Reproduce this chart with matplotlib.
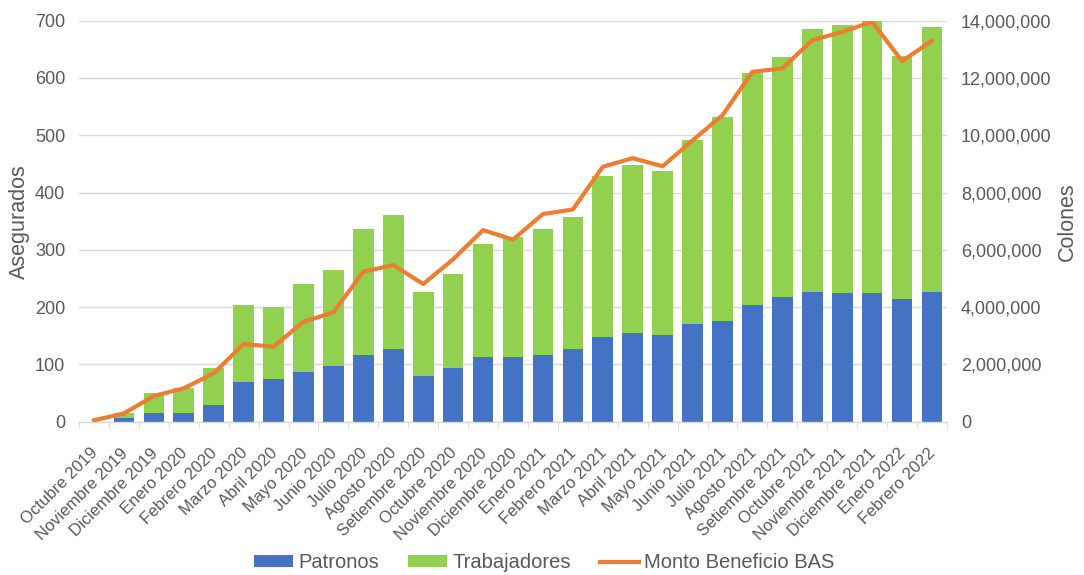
import matplotlib
matplotlib.use("Agg")
import matplotlib.pyplot as plt
import matplotlib.transforms as mtransforms
from matplotlib.ticker import FuncFormatter, MultipleLocator
import numpy as np

plt.rcParams['font.family'] = ['Liberation Sans', 'DejaVu Sans']

meses = ['Octubre 2019', 'Noviembre 2019', 'Diciembre 2019', 'Enero 2020', 'Febrero 2020',
         'Marzo 2020', 'Abril 2020', 'Mayo 2020', 'Junio 2020', 'Julio 2020', 'Agosto 2020',
         'Setiembre 2020', 'Octubre 2020', 'Noviembre 2020', 'Diciembre 2020', 'Enero 2021',
         'Febrero 2021', 'Marzo 2021', 'Abril 2021', 'Mayo 2021', 'Junio 2021', 'Julio 2021',
         'Agosto 2021', 'Setiembre 2021', 'Octubre 2021', 'Noviembre 2021', 'Diciembre 2021',
         'Enero 2022', 'Febrero 2022']

patronos = [0, 7, 16, 16, 29, 70, 74, 87, 97, 117, 127, 80, 94, 113, 113, 117, 127,
            147, 154, 151, 170, 176, 204, 217, 227, 224, 224, 214, 227]
total = [0, 16, 50, 59, 93, 204, 201, 240, 264, 337, 361, 227, 257, 311, 322, 337, 358,
         429, 448, 438, 492, 532, 609, 636, 685, 692, 700, 639, 689]
trabajadores = [t - p for t, p in zip(total, patronos)]
monto = [50000, 290000, 900000, 1165000, 1690000, 2710000, 2620000, 3490000, 3820000,
         5235000, 5470000, 4805000, 5670000, 6690000, 6360000, 7250000, 7410000,
         8900000, 9200000, 8920000, 9820000, 10700000, 12215000, 12335000, 13320000,
         13610000, 13960000, 12590000, 13300000]

AZUL = '#4472C4'
VERDE = '#92D050'
NARANJA = '#ED7D31'
GRIS = '#595959'
REJILLA = '#D9D9D9'

fig = plt.figure(figsize=(10.84, 5.75), dpi=100)
ax = fig.add_axes([0.0729, 0.2666, 0.8007, 0.6974])
x = np.arange(len(meses))

ax.bar(x, patronos, width=0.69, color=AZUL, label='Patronos', zorder=2)
ax.bar(x, trabajadores, width=0.69, bottom=patronos, color=VERDE, label='Trabajadores', zorder=2)

ax.set_xlim(-0.5, len(meses) - 0.5)
ax.set_ylim(0, 700)
ax.yaxis.set_major_locator(MultipleLocator(100))
ax.grid(axis='y', color=REJILLA, lw=1, zorder=0)
ax.set_axisbelow(True)
for s in ['top', 'left', 'right']:
    ax.spines[s].set_visible(False)
ax.spines['bottom'].set_color(REJILLA)
ax.spines['bottom'].set_linewidth(1)

ax.set_xticks(x)
ax.set_xticklabels(meses, rotation=45, ha='right', va='top', rotation_mode='anchor',
                   fontsize=12, color=GRIS)
ax.tick_params(axis='x', which='major', length=0, pad=17)
desplazo = mtransforms.ScaledTranslation(-4 / 100, 0, fig.dpi_scale_trans)
for lbl in ax.get_xticklabels():
    lbl.set_transform(lbl.get_transform() + desplazo)
ax.set_xticks(np.arange(-0.5, len(meses)), minor=True)
ax.tick_params(axis='x', which='minor', length=5, color=REJILLA)
ax.tick_params(axis='y', length=0, labelsize=13, labelcolor=GRIS, pad=10)
ax.set_ylabel('Asegurados', fontsize=15.5, color=GRIS)
ax.yaxis.set_label_coords(-0.0565, 0.5)

ax2 = ax.twinx()
ax2.plot(x, monto, color=NARANJA, lw=3, label='Monto Beneficio BAS', solid_joinstyle='round')
ax2.set_ylim(0, 14000000)
ax2.yaxis.set_major_locator(MultipleLocator(2000000))
ax2.yaxis.set_major_formatter(FuncFormatter(lambda v, p: f'{int(v):,}'))
ax2.tick_params(axis='y', length=0, labelsize=13, labelcolor=GRIS, pad=10)
for s in ['top', 'left', 'right', 'bottom']:
    ax2.spines[s].set_visible(False)
ax2.set_ylabel('Colones', fontsize=15.5, color=GRIS)
ax2.yaxis.set_label_coords(1.127, 0.5)

h1, l1 = ax.get_legend_handles_labels()
h2, l2 = ax2.get_legend_handles_labels()
fig.legend(h1 + h2, l1 + l2, loc='center', bbox_to_anchor=(0.502, 0.021), ncol=3,
           frameon=False, fontsize=14.5, labelcolor=GRIS, handlelength=1.95, handleheight=0.55,
           columnspacing=1.45, handletextpad=0.25)

fig.savefig('out.png', dpi=100)
